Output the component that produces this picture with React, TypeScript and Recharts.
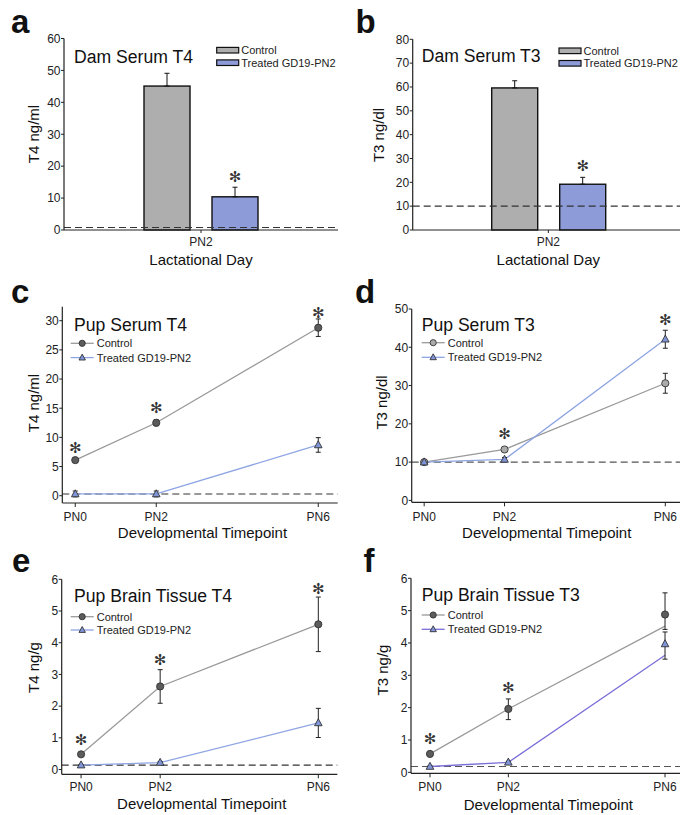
import React from "react";
import { BarChart, Bar, LineChart, Line, XAxis, YAxis, ErrorBar, ReferenceLine } from "recharts";

const FONT = '"Liberation Sans", Arial, Helvetica, sans-serif';
const STAR_FONT = '"DejaVu Sans", sans-serif';

// ---- dam serum (bar panels a, b) ----
const barCategory = ["PN2"];
const groupNames = ["Control", "Treated GD19-PN2"];
const damT4Mean = [45.1, 10.4];
const damT4ErrUp = [4.0, 3.0];
const damT4Star = [null, 16.7];
const damT4Limit = 0.8;
const damT3Mean = [59.6, 19.2];
const damT3ErrUp = [3.0, 2.9];
const damT3Star = [null, 27.0];
const damT3Limit = 10;

// ---- pup panels (c - f) ----
const days = [0, 2, 6];
const dayLabels = ["PN0", "PN2", "PN6"];

const serumT4Ctrl = [6.1, 12.5, 28.8];
const serumT4CtrlErr = [0.3, 0.5, 1.5];
const serumT4Trt = [0.3, 0.3, 8.7];
const serumT4TrtErr = [0.5, 0.5, 1.25];
const serumT4Star = [8.1, 15.0, 31.3];
const serumT4Limit = 0.3;

const serumT3Ctrl = [10.0, 13.3, 30.6];
const serumT3CtrlErr = [0.3, 0.6, 2.6];
const serumT3Trt = [10.0, 10.7, 42.1];
const serumT3TrtErr = [0.3, 0.5, 2.35];
const serumT3Star = [null, 17.3, 47.1];
const serumT3Limit = 10;

const brainT4Ctrl = [0.48, 2.62, 4.58];
const brainT4CtrlErr = [0.04, 0.53, 0.86];
const brainT4Trt = [0.14, 0.22, 1.47];
const brainT4TrtErr = [0.02, 0.03, 0.46];
const brainT4Star = [0.93, 3.45, 5.68];
const brainT4Limit = 0.14;

// brain T3: line ends differ from the plotted means at PN6
const brainT3Ctrl = [0.57, 1.96, 4.88];
const brainT3CtrlLine = [0.57, 1.96, 4.52];
const brainT3CtrlErrLow = [0.03, 0.33, 0.46];
const brainT3CtrlErrHigh = [0.03, 0.31, 0.67];
const brainT3Trt = [0.18, 0.31, 3.97];
const brainT3TrtLine = [0.18, 0.31, 3.62];
const brainT3TrtErrLow = [0.02, 0.03, 0.47];
const brainT3TrtErrHigh = [0.02, 0.03, 0.37];
const brainT3Star = [1.02, 2.6, null];
const brainT3Limit = 0.18;

const GRAY_BAR = "#aeaeae";
const BLUE_BAR = "#8d9bd8";
const CTRL_LINE = "#9a9a9a";
const TRT_LINE = "#8ea5e4";
const TRT_LINE_F = "#7a6fd8";
const CTRL_DOT = "#5c5c5c";
const CTRL_DOT_LIGHT = "#ababab";
const TRT_DOT = "#8094d8";
const INK = "#222";
const TICK_FS = 12;

const Y_TS = 3;
const Y_TM = 0.5;

function yTick(majors: number[]) {
  return (props: any) => {
    const { x, y, payload } = props;
    const v = payload.value;
    const major = majors.some((m) => Math.abs(m - v) < 1e-9);
    const ax = x + Y_TM + Y_TS;
    return (
      <g>
        <line x1={ax - Y_TS} x2={ax} y1={y} y2={y} stroke={INK} strokeWidth={1} />
        {major && (
          <text x={x} y={y} dy="0.36em" textAnchor="end" fontSize={TICK_FS} fill={INK} fontFamily={FONT}>
            {v}
          </text>
        )}
      </g>
    );
  };
}

function starText(x: number, y: number) {
  return (
    <text x={x} y={y} textAnchor="middle" dominantBaseline="central" fontSize={15} fill="#333" fontFamily={STAR_FONT}>
      ✻
    </text>
  );
}

function barShape(key: string, star: number | null, fill: string) {
  return (props: any) => {
    const { x, y, width, height, payload } = props;
    const v = payload[key];
    const pxPer = height / v;
    return (
      <g>
        <rect x={x} y={y} width={width} height={height} fill={fill} stroke="#111" strokeWidth={1.4} />
        {star != null && starText(x + width / 2, y + height - star * pxPer)}
      </g>
    );
  };
}

const circleDot = (fill: string) => (props: any) => {
  const { cx, cy, index } = props;
  if (cx == null || cy == null) return <g key={index} />;
  return <circle key={index} cx={cx} cy={cy} r={3.6} fill={fill} stroke="#333" strokeWidth={0.9} />;
};

const triDot = (props: any) => {
  const { cx, cy, index } = props;
  if (cx == null || cy == null) return <g key={index} />;
  return (
    <polygon
      key={index}
      points={`${cx},${cy - 4.2} ${cx - 3.8},${cy + 2.8} ${cx + 3.8},${cy + 2.8}`}
      fill={TRT_DOT}
      stroke="#333"
      strokeWidth={0.9}
    />
  );
};

const starDot = (props: any) => {
  const { cx, cy, index, value } = props;
  if (cx == null || cy == null || value == null) return <g key={index} />;
  return <g key={index}>{starText(cx, cy)}</g>;
};

type Geo = { left: number; top: number; w: number; h: number; pl: number; pr: number; pt: number; pb: number; xtm: number };

const YW = 40;
const XH = 20;

function margins(g: Geo) {
  return { top: g.pt, left: g.pl - YW, right: g.w - g.pr, bottom: g.h - g.pb - XH };
}

function Frame() {
  return [
    <XAxis key="ft" xAxisId="top" orientation="top" type="number" domain={[0, 1]} height={0} tick={false} tickLine={false} axisLine={{ stroke: "#444", strokeWidth: 1.1 }} />,
    <YAxis key="fr" yAxisId="right" orientation="right" type="number" domain={[0, 1]} width={0} tick={false} tickLine={false} axisLine={{ stroke: "#444", strokeWidth: 1.1 }} />,
  ];
}

type BarPanelProps = { geo: Geo; mean: number[]; errUp: number[]; star: (number | null)[]; limit: number; yMax: number; majors: number[]; minors: number[] };

function BarPanel({ geo, mean, errUp, star, limit, yMax, majors, minors }: BarPanelProps) {
  const data = barCategory.map((c) => ({
    cat: c,
    ctrl: mean[0],
    ctrlErr: [0, errUp[0]],
    trt: mean[1],
    trtErr: [0, errUp[1]],
  }));
  return (
    <div style={{ position: "absolute", left: geo.left, top: geo.top }}>
      <BarChart width={geo.w} height={geo.h} data={data} margin={margins(geo)} barSize={46} barGap={22}>
        {Frame()}
        <XAxis
          dataKey="cat"
          height={XH}
          tickSize={3}
          tickMargin={geo.xtm}
          tick={{ fontSize: TICK_FS, fill: INK, fontFamily: FONT }}
          axisLine={{ stroke: INK, strokeWidth: 1.2 }}
          tickLine={{ stroke: INK }}
        />
        <YAxis
          type="number"
          domain={[0, yMax]}
          ticks={[...majors, ...minors].sort((a, b) => a - b)}
          width={YW}
          tickSize={Y_TS}
          tickMargin={Y_TM}
          tickLine={false}
          tick={yTick(majors)}
          axisLine={{ stroke: INK, strokeWidth: 1.2 }}
        />
        <ReferenceLine y={limit} stroke="#333" strokeDasharray="7 4" strokeWidth={1.1} />
        <Bar dataKey="ctrl" fill={GRAY_BAR} shape={barShape("ctrl", star[0], GRAY_BAR)} isAnimationActive={false}>
          <ErrorBar dataKey="ctrlErr" width={2.5} stroke="#111" strokeWidth={1} />
        </Bar>
        <Bar dataKey="trt" fill={BLUE_BAR} shape={barShape("trt", star[1], BLUE_BAR)} isAnimationActive={false}>
          <ErrorBar dataKey="trtErr" width={2.5} stroke="#111" strokeWidth={1} />
        </Bar>
      </BarChart>
    </div>
  );
}

type LinePanelProps = {
  geo: Geo;
  rows: any[];
  xDomain: [number, number];
  yDomain: [number, number];
  majors: number[];
  minors: number[];
  limit: number;
  limitColor: string;
  ctrlDot: string;
  trtLine: string;
};

function LinePanel({ geo, rows, xDomain, yDomain, majors, minors, limit, limitColor, ctrlDot, trtLine }: LinePanelProps) {
  return (
    <div style={{ position: "absolute", left: geo.left, top: geo.top }}>
      <LineChart width={geo.w} height={geo.h} data={rows} margin={margins(geo)}>
        {Frame()}
        <XAxis
          dataKey="day"
          type="number"
          domain={xDomain}
          allowDataOverflow
          ticks={days}
          tickFormatter={(v: number) => dayLabels[days.indexOf(v)]}
          height={XH}
          tickSize={4}
          tickMargin={geo.xtm}
          tick={{ fontSize: TICK_FS, fill: INK, fontFamily: FONT }}
          axisLine={{ stroke: INK, strokeWidth: 1.2 }}
          tickLine={{ stroke: INK }}
        />
        <YAxis
          type="number"
          domain={yDomain}
          allowDataOverflow
          ticks={[...majors, ...minors].sort((a, b) => a - b)}
          width={YW}
          tickSize={Y_TS}
          tickMargin={Y_TM}
          tickLine={false}
          tick={yTick(majors)}
          axisLine={{ stroke: INK, strokeWidth: 1.2 }}
        />
        <ReferenceLine y={limit} stroke={limitColor} strokeDasharray="7 4" strokeWidth={1.1} />
        <Line dataKey="ctrlLine" stroke={CTRL_LINE} strokeWidth={1.3} dot={false} activeDot={false} isAnimationActive={false} />
        <Line dataKey="trtLine" stroke={trtLine} strokeWidth={1.3} dot={false} activeDot={false} isAnimationActive={false} />
        <Line dataKey="ctrl" stroke="none" dot={circleDot(ctrlDot)} activeDot={false} isAnimationActive={false}>
          <ErrorBar dataKey="ctrlErr" width={2.5} stroke="#222" strokeWidth={1} />
        </Line>
        <Line dataKey="trt" stroke="none" dot={triDot} activeDot={false} isAnimationActive={false}>
          <ErrorBar dataKey="trtErr" width={2.5} stroke="#222" strokeWidth={1} />
        </Line>
        <Line dataKey="star" stroke="none" dot={starDot} activeDot={false} isAnimationActive={false} />
      </LineChart>
    </div>
  );
}

function rowsOf(ctrl: number[], ctrlLine: number[], ctrlLow: number[], ctrlHigh: number[], trt: number[], trtLine: number[], trtLow: number[], trtHigh: number[], star: (number | null)[]) {
  return days.map((d, i) => ({
    day: d,
    ctrl: ctrl[i],
    ctrlLine: ctrlLine[i],
    ctrlErr: [ctrlLow[i], ctrlHigh[i]],
    trt: trt[i],
    trtLine: trtLine[i],
    trtErr: [trtLow[i], trtHigh[i]],
    star: star[i],
  }));
}

const GEO: Record<string, Geo> = {
  a: { left: 0, top: 0, w: 340, h: 270, pl: 64, pr: 338, pt: 38.5, pb: 230, xtm: 4.8 },
  b: { left: 340, top: 0, w: 345, h: 270, pl: 72.7, pr: 344, pt: 39.3, pb: 230, xtm: 4.8 },
  c: { left: 0, top: 270, w: 340, h: 270, pl: 62.3, pr: 337.7, pt: 36.7, pb: 233, xtm: 5.6 },
  d: { left: 340, top: 270, w: 345, h: 270, pl: 71.7, pr: 345, pt: 39, pb: 232.3, xtm: 5.9 },
  e: { left: 0, top: 540, w: 340, h: 275, pl: 61.7, pr: 337.3, pt: 39.3, pb: 234.3, xtm: 3.9 },
  f: { left: 340, top: 540, w: 345, h: 275, pl: 71, pr: 345, pt: 38.3, pb: 233.3, xtm: 4.9 },
};

function BarLegend({ x, y }: { x: number; y: number }) {
  const fills = [GRAY_BAR, BLUE_BAR];
  return (
    <g>
      {groupNames.map((n, i) => (
        <g key={n}>
          <rect x={x} y={y + i * 12.5 - 2.8} width={22} height={5.6} fill={fills[i]} stroke="#111" strokeWidth={1.2} />
          <text x={x + 24.5} y={y + i * 12.5 + 4} fontSize={11} fill={INK} fontFamily={FONT}>
            {n}
          </text>
        </g>
      ))}
    </g>
  );
}

function LineLegend({ x, y, gap, ctrlDot, trtLine }: { x: number; y: number; gap: number; ctrlDot: string; trtLine: string }) {
  const mx = x + 11.5;
  return (
    <g>
      <line x1={x} x2={x + 23} y1={y} y2={y} stroke={CTRL_LINE} strokeWidth={1.3} />
      <circle cx={mx} cy={y} r={3.1} fill={ctrlDot} stroke="#333" strokeWidth={0.9} />
      <text x={x + 26} y={y + 4} fontSize={11} fill={INK} fontFamily={FONT}>
        {groupNames[0]}
      </text>
      <line x1={x} x2={x + 23} y1={y + gap} y2={y + gap} stroke={trtLine} strokeWidth={1.3} />
      <polygon
        points={`${mx},${y + gap - 3.5} ${mx - 3.2},${y + gap + 2.4} ${mx + 3.2},${y + gap + 2.4}`}
        fill={TRT_DOT}
        stroke="#333"
        strokeWidth={0.9}
      />
      <text x={x + 26} y={y + gap + 4} fontSize={11} fill={INK} fontFamily={FONT}>
        {groupNames[1]}
      </text>
    </g>
  );
}

const titles = [
  { t: "Dam Serum T4", x: 74, y: 62.7 },
  { t: "Dam Serum T3", x: 421.7, y: 61.7 },
  { t: "Pup Serum T4", x: 74, y: 331 },
  { t: "Pup Serum T3", x: 421.7, y: 331 },
  { t: "Pup Brain Tissue T4", x: 74, y: 602.3 },
  { t: "Pup Brain Tissue T3", x: 421.7, y: 601 },
];
const letters = [
  { t: "a", x: 11, y: 33.3 },
  { t: "b", x: 355.5, y: 33.3 },
  { t: "c", x: 11, y: 303.3 },
  { t: "d", x: 355, y: 303.3 },
  { t: "e", x: 12, y: 572.3 },
  { t: "f", x: 363.5, y: 572.3 },
];
const yTitles = [
  { t: "T4 ng/ml", x: 38.6, y: 134 },
  { t: "T3 ng/dl", x: 383.5, y: 135 },
  { t: "T4 ng/ml", x: 39, y: 403 },
  { t: "T3 ng/dl", x: 387.3, y: 402.5 },
  { t: "T4 ng/g", x: 39, y: 667.5 },
  { t: "T3 ng/g", x: 388.3, y: 670 },
];
const xTitles = [
  { t: "Lactational Day", x: 201, y: 264.7 },
  { t: "Lactational Day", x: 548.3, y: 264.7 },
  { t: "Developmental Timepoint", x: 202.5, y: 538 },
  { t: "Developmental Timepoint", x: 546.7, y: 538 },
  { t: "Developmental Timepoint", x: 201.7, y: 808.5 },
  { t: "Developmental Timepoint", x: 548.3, y: 809.5 },
];

export default function App() {
  const rowsC = rowsOf(serumT4Ctrl, serumT4Ctrl, serumT4CtrlErr, serumT4CtrlErr, serumT4Trt, serumT4Trt, serumT4TrtErr, serumT4TrtErr, serumT4Star);
  const rowsD = rowsOf(serumT3Ctrl, serumT3Ctrl, serumT3CtrlErr, serumT3CtrlErr, serumT3Trt, serumT3Trt, serumT3TrtErr, serumT3TrtErr, serumT3Star);
  const rowsE = rowsOf(brainT4Ctrl, brainT4Ctrl, brainT4CtrlErr, brainT4CtrlErr, brainT4Trt, brainT4Trt, brainT4TrtErr, brainT4TrtErr, brainT4Star);
  const rowsF = rowsOf(brainT3Ctrl, brainT3CtrlLine, brainT3CtrlErrLow, brainT3CtrlErrHigh, brainT3Trt, brainT3TrtLine, brainT3TrtErrLow, brainT3TrtErrHigh, brainT3Star);

  return (
    <div style={{ position: "absolute", left: 0, top: 0, width: 680, height: 815, overflow: "hidden", background: "#fff", fontFamily: FONT }}>
      <BarPanel geo={GEO.a} mean={damT4Mean} errUp={damT4ErrUp} star={damT4Star} limit={damT4Limit} yMax={60}
        majors={[0, 10, 20, 30, 40, 50, 60]} minors={[5, 15, 25, 35, 45, 55]} />
      <BarPanel geo={GEO.b} mean={damT3Mean} errUp={damT3ErrUp} star={damT3Star} limit={damT3Limit} yMax={80}
        majors={[0, 10, 20, 30, 40, 50, 60, 70, 80]} minors={[5, 15, 25, 35, 45, 55, 65, 75]} />
      <LinePanel geo={GEO.c} rows={rowsC} xDomain={[-0.32, 6.48]} yDomain={[-1.25, 32.4]}
        majors={[0, 5, 10, 15, 20, 25, 30]} minors={[2.5, 7.5, 12.5, 17.5, 22.5, 27.5]}
        limit={serumT4Limit} limitColor="#333" ctrlDot={CTRL_DOT} trtLine={TRT_LINE} />
      <LinePanel geo={GEO.d} rows={rowsD} xDomain={[-0.31, 6.49]} yDomain={[-0.5, 50]}
        majors={[0, 10, 20, 30, 40, 50]} minors={[5, 15, 25, 35, 45]}
        limit={serumT3Limit} limitColor="#555" ctrlDot={CTRL_DOT_LIGHT} trtLine={TRT_LINE} />
      <LinePanel geo={GEO.e} rows={rowsE} xDomain={[-0.49, 6.48]} yDomain={[-0.15, 6]}
        majors={[0, 1, 2, 3, 4, 5, 6]} minors={[0.5, 1.5, 2.5, 3.5, 4.5, 5.5]}
        limit={brainT4Limit} limitColor="#333" ctrlDot={CTRL_DOT} trtLine={TRT_LINE} />
      <LinePanel geo={GEO.f} rows={rowsF} xDomain={[-0.485, 6.51]} yDomain={[-0.03, 6]}
        majors={[0, 1, 2, 3, 4, 5, 6]} minors={[0.5, 1.5, 2.5, 3.5, 4.5, 5.5]}
        limit={brainT3Limit} limitColor="#555" ctrlDot={CTRL_DOT} trtLine={TRT_LINE_F} />

      <svg width={680} height={815} style={{ position: "absolute", left: 0, top: 0, pointerEvents: "none" }}>
        {letters.map((l) => (
          <text key={l.t} x={l.x} y={l.y} fontSize={33} fontWeight="bold" fill="#111" fontFamily={FONT}>
            {l.t}
          </text>
        ))}
        {titles.map((t) => (
          <text key={t.t} x={t.x} y={t.y} fontSize={17.6} fill="#111" fontFamily={FONT}>
            {t.t}
          </text>
        ))}
        {yTitles.map((t, i) => (
          <text key={i} x={t.x} y={t.y} fontSize={15} fill="#111" fontFamily={FONT} textAnchor="middle"
            transform={`rotate(-90 ${t.x} ${t.y})`}>
            {t.t}
          </text>
        ))}
        {xTitles.map((t, i) => (
          <text key={i} x={t.x} y={t.y} fontSize={15} fill="#111" fontFamily={FONT} textAnchor="middle">
            {t.t}
          </text>
        ))}
        <BarLegend x={216.7} y={50.2} />
        <BarLegend x={559} y={50.8} />
        <LineLegend x={70.7} y={343.3} gap={14.3} ctrlDot={CTRL_DOT} trtLine={TRT_LINE} />
        <LineLegend x={421.7} y={342.7} gap={14.6} ctrlDot={CTRL_DOT_LIGHT} trtLine={TRT_LINE} />
        <LineLegend x={70.7} y={616.7} gap={13.3} ctrlDot={CTRL_DOT} trtLine={TRT_LINE} />
        <LineLegend x={421.7} y={615} gap={14.3} ctrlDot={CTRL_DOT} trtLine={TRT_LINE_F} />
      </svg>
    </div>
  );
}
